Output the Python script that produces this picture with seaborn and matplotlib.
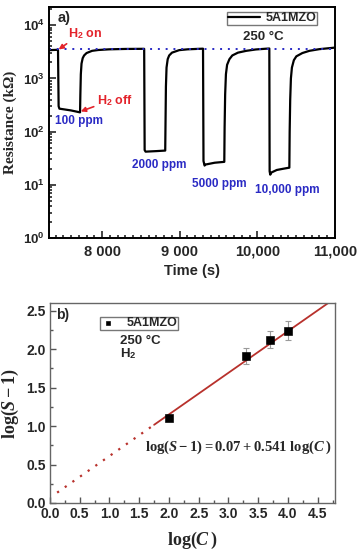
import numpy as np
import seaborn as sns
import matplotlib
matplotlib.use("Agg")
import matplotlib.pyplot as plt
from matplotlib.ticker import FuncFormatter, MultipleLocator, LogLocator, NullFormatter

# --- panel a) : resistance transient (read off the picture) ---
time_s = [7316, 7432, 7440, 7450, 7600, 7716,
          7720, 7726, 7735, 7750, 7768, 7800, 7871, 7950, 8090, 8300, 8542,
          8548, 8560, 8700, 8813,
          8817, 8822, 8830, 8845, 8864, 8900, 8993, 9100, 9251, 9300,
          9306, 9320, 9330, 9450, 9574,
          9578, 9585, 9595, 9610, 9640, 9677, 9750, 9857, 9980, 10115, 10154,
          10158, 10166, 10180, 10250, 10330, 10412,
          10416, 10423, 10432, 10445, 10470, 10502, 10580, 10670, 10800, 10967, 11000]
resistance = [3400, 3450, 300, 270, 250, 230,
              500, 1200, 1900, 2400, 2700, 3000, 3300, 3420, 3520, 3580, 3600,
              45, 42, 43, 44,
              150, 700, 1600, 2300, 2700, 3050, 3400, 3520, 3600, 3620,
              28, 23, 24, 26, 27,
              120, 500, 1200, 1800, 2300, 2700, 3050, 3300, 3500, 3620, 3650,
              18, 15.5, 17, 19, 20, 21,
              100, 400, 1000, 1600, 2200, 2600, 3000, 3300, 3550, 3750, 3800]
baseline = 3600
time_ticks = [8000, 9000, 10000, 11000]
time_tick_labels = ["8 000", "9 000", "10,000", "11,000"]
conc_labels = ["100 ppm", "2000 ppm", "5000 ppm", "10,000 ppm"]

# --- panel b) : log(S-1) vs log(C) ---
log_c = [2.0, 3.3, 3.7, 4.0]
log_s1 = [1.11, 1.91, 2.12, 2.24]
log_s1_err = [0.04, 0.10, 0.11, 0.12]
fit_intercept = 0.07
fit_slope = 0.541
fit_dotted_x = [0.12, 1.75]
fit_solid_x = [1.75, 4.8]

sns.set_theme(style="ticks")
plt.rcParams["font.family"] = ["Liberation Sans", "DejaVu Sans"]
plt.rcParams["font.weight"] = "bold"
plt.rcParams["mathtext.fontset"] = "custom"
plt.rcParams["mathtext.rm"] = "Liberation Serif:bold"
plt.rcParams["mathtext.bf"] = "Liberation Serif:bold"
plt.rcParams["mathtext.it"] = "Liberation Serif:italic:bold"
plt.rcParams["mathtext.sf"] = "Liberation Sans:bold"

fig = plt.figure(figsize=(3.6, 5.5), dpi=100)
ax1 = fig.add_axes([49 / 360, 1 - 238 / 550, 286 / 360, 231 / 550])
ax2 = fig.add_axes([50 / 360, 1 - 503 / 550, 285 / 360, 200 / 550])

red = "#e3232b"
blue = "#2a2ac4"

# ---------------- panel a ----------------
sns.lineplot(x=time_s, y=resistance, sort=False, color="black", lw=1.6, ax=ax1,
             label="5A1MZO")
ax1.axhline(baseline, color=blue, ls=(0, (1, 3)), lw=1.4)
ax1.set_yscale("log")
ax1.set_xlim(7316, 11000)
ax1.set_ylim(1, 2.2e4)
ax1.set_xticks(time_ticks)
ax1.set_xticklabels(time_tick_labels)
ax1.xaxis.set_minor_locator(MultipleLocator(100))
ax1.yaxis.set_major_locator(LogLocator(base=10, numticks=10))
ax1.yaxis.set_minor_locator(LogLocator(base=10, subs=np.arange(2, 10), numticks=10))
ax1.yaxis.set_minor_formatter(NullFormatter())
ax1.yaxis.set_major_formatter(FuncFormatter(lambda v, p: r"$\mathsf{10^{%d}}$" % round(np.log10(v))))
ax1.set_xlabel("Time (s)", fontsize=10.5, fontweight="bold", labelpad=4)
ax1.set_ylabel("Resistance (k\u03a9)", fontsize=11, fontweight="bold",
               family="Liberation Serif")
ax1.yaxis.set_label_coords(-0.112, 0.5)
for s in ax1.spines.values():
    s.set_linewidth(1.4)
    s.set_color("black")
ax1.tick_params(which="both", direction="in", top=False, right=False, width=1.2)
ax1.tick_params(which="major", length=5, labelsize=10.5, pad=5)
ax1.tick_params(axis="y", which="major", labelsize=9.5, pad=3)
ax1.tick_params(which="minor", length=2.5)
for lab in ax1.get_xticklabels() + ax1.get_yticklabels():
    lab.set_fontweight("bold")

leg = ax1.legend(loc="upper right", bbox_to_anchor=(0.937, 0.98), borderaxespad=0,
                 frameon=True, fancybox=False, edgecolor="#777777", fontsize=9,
                 handlelength=2.6, handletextpad=0.4, borderpad=0.05, framealpha=1)
leg.get_frame().set_linewidth(1.0)
for t in leg.get_texts():
    t.set_fontweight("bold")

ax1.text(0.031, 0.952, "a)", transform=ax1.transAxes, fontsize=10.5, fontweight="bold", va="center")
ax1.text(0.678, 0.872, "250 \u00b0C", transform=ax1.transAxes, fontsize=9.5, fontweight="bold",
         va="center", zorder=10)
ax1.annotate(r"H$_\mathsf{2}$ on", xy=(7440, 3500), xytext=(0.066, 0.887),
             textcoords="axes fraction", color=red, fontsize=9, fontweight="bold", va="center",
             arrowprops=dict(arrowstyle="-|>", color=red, lw=1.2, mutation_scale=7,
                             shrinkA=0, shrinkB=0, relpos=(0.1, 0.0)))
ax1.annotate(r"H$_\mathsf{2}$ off", xy=(7725, 240), xytext=(0.168, 0.593),
             textcoords="axes fraction", color=red, fontsize=9, fontweight="bold", va="center",
             arrowprops=dict(arrowstyle="-|>", color=red, lw=1.2, mutation_scale=7,
                             shrinkA=0, shrinkB=0, relpos=(0.0, 0.2)))
conc_pos = [(0.021, 0.506), (0.29, 0.316), (0.50, 0.234), (0.72, 0.208)]
for lab, (x, y) in zip(conc_labels, conc_pos):
    ax1.text(x, y, lab, transform=ax1.transAxes, color=blue, fontsize=8.5,
             fontweight="bold", va="center")

# ---------------- panel b ----------------
ax2.errorbar(log_c, log_s1, yerr=log_s1_err, fmt="none", ecolor="#9a9a9a",
             elinewidth=0.8, capsize=2, capthick=0.8, zorder=2)
sns.scatterplot(x=log_c, y=log_s1, marker="s", s=32, color="black", edgecolor="black",
                ax=ax2, label="5A1MZO", zorder=3)
ax2.plot(fit_solid_x, [fit_intercept + fit_slope * x for x in fit_solid_x],
         color="#b8312c", lw=1.3, zorder=2)
ax2.plot(fit_dotted_x, [fit_intercept + fit_slope * x for x in fit_dotted_x],
         color="#b8312c", lw=1.6, ls=(0, (1, 3.2)), zorder=2)
ax2.set_xlim(0, 4.79)
ax2.set_ylim(0, 2.6)
ax2.xaxis.set_major_locator(MultipleLocator(0.5))
ax2.xaxis.set_minor_locator(MultipleLocator(0.25))
ax2.yaxis.set_major_locator(MultipleLocator(0.5))
ax2.yaxis.set_minor_locator(MultipleLocator(0.25))
ax2.xaxis.set_major_formatter(FuncFormatter(lambda v, p: f"{v:.1f}"))
ax2.yaxis.set_major_formatter(FuncFormatter(lambda v, p: f"{v:.1f}"))
for s in ax2.spines.values():
    s.set_linewidth(1.0)
    s.set_color("#666666")
ax2.tick_params(which="both", direction="in", top=False, right=False, width=1.0, color="#555555")
ax2.tick_params(which="major", length=4, labelsize=10, pad=3)
ax2.tick_params(which="minor", length=2)
for lab in ax2.get_xticklabels() + ax2.get_yticklabels():
    lab.set_fontweight("bold")
ax2.set_xlabel(r"$\mathrm{log}(C\,)$", fontsize=13, labelpad=6)
ax2.set_ylabel(r"$\mathrm{log}(S - 1)$", fontsize=13)
ax2.yaxis.set_label_coords(-0.1, 0.5)

leg2 = ax2.legend(loc="upper left", bbox_to_anchor=(0.175, 0.93), borderaxespad=0,
                  frameon=True, fancybox=False, edgecolor="#777777", fontsize=9,
                  handlelength=1.2, handletextpad=0.9, borderpad=0.02, markerscale=0.6,
                  framealpha=1)
leg2.get_frame().set_linewidth(1.0)
for t in leg2.get_texts():
    t.set_fontweight("bold")

ax2.text(0.021, 0.94, "b)", transform=ax2.transAxes, fontsize=10, fontweight="bold", va="center")
ax2.text(0.246, 0.81, "250 \u00b0C", transform=ax2.transAxes, fontsize=9.5, fontweight="bold",
         va="center", zorder=10)
ax2.text(0.246, 0.745, r"H$_\mathsf{2}$", transform=ax2.transAxes, fontsize=9.5, fontweight="bold",
         va="center")
ax2.text(0.333, 0.28, r"$\mathrm{log}(S - 1) = 0.07 + 0.541\ \mathrm{log}(C\,)$",
         transform=ax2.transAxes, fontsize=10.5, va="center")

fig.savefig("out.png", dpi=100)
